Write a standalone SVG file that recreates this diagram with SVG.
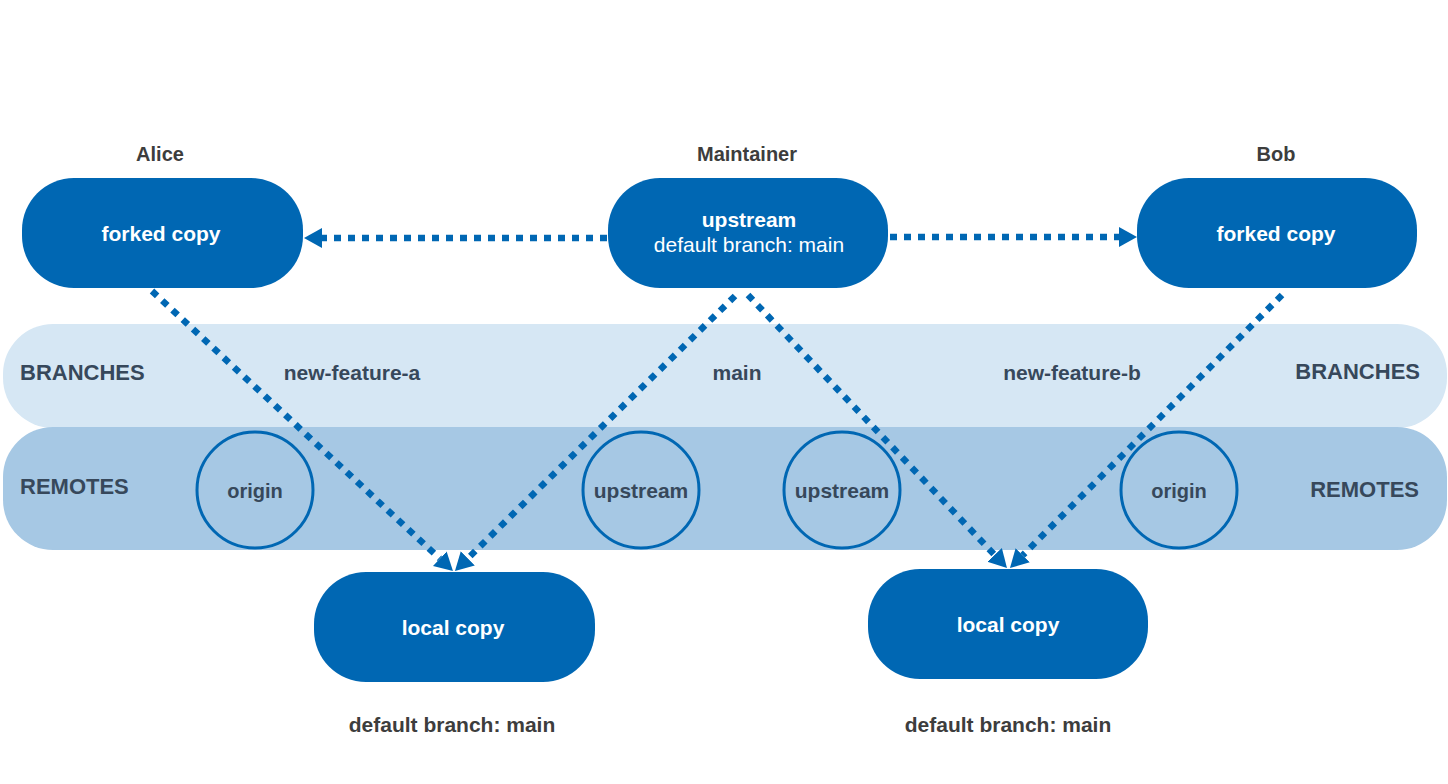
<svg xmlns="http://www.w3.org/2000/svg" width="1448" height="784" viewBox="0 0 1448 784">
<style>
text{font-family:"Liberation Sans",Arial,sans-serif;}
.node{fill:#0067b3;}
.wt{fill:#ffffff;font-size:21px;text-anchor:middle;}
.b{font-weight:bold;}
.lbl{fill:#3d3d3d;font-size:20px;font-weight:bold;text-anchor:middle;}
.band{fill:#37485b;font-size:21px;font-weight:bold;}
.cap{font-size:22px;}
.sm{font-size:20px;}
.foot{font-size:21px;}
.rc{fill:none;stroke:#0067b3;stroke-width:3;}
.conn{fill:none;stroke:#0067b3;stroke-width:6.5;stroke-dasharray:7 7;marker-end:url(#ah);}
</style>
<defs>
<marker id="ah" markerUnits="userSpaceOnUse" markerWidth="20" markerHeight="22" refX="0" refY="11" orient="auto" viewBox="0 0 20 22">
<path d="M0,1 L18,11 L0,21 z" fill="#0067b3"/>
</marker>
</defs>
<rect width="1448" height="784" fill="#ffffff"/>
<g id="bands">
<rect x="3" y="324" width="1444" height="104" rx="50" fill="#d6e7f4"/>
<rect x="3" y="427" width="1444" height="123" rx="50" fill="#a6c8e4"/>
<text class="band cap" x="20" y="380">BRANCHES</text>
<text class="band cap" x="1420" y="379" text-anchor="end">BRANCHES</text>
<text class="band cap" x="20" y="494">REMOTES</text>
<text class="band cap" x="1419" y="497" text-anchor="end">REMOTES</text>
<text class="band" x="352" y="380" text-anchor="middle">new-feature-a</text>
<text class="band" x="737" y="380" text-anchor="middle">main</text>
<text class="band" x="1072" y="380" text-anchor="middle">new-feature-b</text>
</g>
<g id="remote-origin-a">
<circle class="rc" cx="255" cy="490" r="58"/>
<text class="band sm" x="255" y="498" text-anchor="middle">origin</text>
</g>
<g id="remote-upstream-a">
<circle class="rc" cx="641" cy="490" r="58"/>
<text class="band" x="641" y="498" text-anchor="middle">upstream</text>
</g>
<g id="remote-upstream-b">
<circle class="rc" cx="842" cy="490" r="58"/>
<text class="band" x="842" y="498" text-anchor="middle">upstream</text>
</g>
<g id="remote-origin-b">
<circle class="rc" cx="1179" cy="490" r="58"/>
<text class="band sm" x="1179" y="498" text-anchor="middle">origin</text>
</g>
<g id="connectors">
<path class="conn" d="M607,238 L322,238"/>
<path class="conn" d="M890,237 L1119,237"/>
<path class="conn" d="M152,291 L439.8,558.7"/>
<path class="conn" d="M735,296 L467.8,558.4"/>
<path class="conn" d="M748,295 L994.6,554.9"/>
<path class="conn" d="M1282,295 L1022.7,555.3"/>
</g>
<g id="alice">
<text class="lbl" x="160" y="161">Alice</text>
<rect class="node" x="22" y="178" width="281" height="110" rx="52"/>
<text class="wt b" x="161" y="241">forked copy</text>
</g>
<g id="maintainer">
<text class="lbl" x="747" y="161">Maintainer</text>
<rect class="node" x="608" y="178" width="280" height="110" rx="52"/>
<text class="wt b" x="749" y="227">upstream</text>
<text class="wt" x="749" y="252">default branch: main</text>
</g>
<g id="bob">
<text class="lbl" x="1276" y="161">Bob</text>
<rect class="node" x="1137" y="178" width="280" height="110" rx="52"/>
<text class="wt b" x="1276" y="241">forked copy</text>
</g>
<g id="local-a">
<rect class="node" x="314" y="572" width="281" height="110" rx="52"/>
<text class="wt b" x="453" y="635">local copy</text>
<text class="lbl foot" x="452" y="732">default branch: main</text>
</g>
<g id="local-b">
<rect class="node" x="868" y="569" width="280" height="110" rx="52"/>
<text class="wt b" x="1008" y="632">local copy</text>
<text class="lbl foot" x="1008" y="732">default branch: main</text>
</g>
</svg>
